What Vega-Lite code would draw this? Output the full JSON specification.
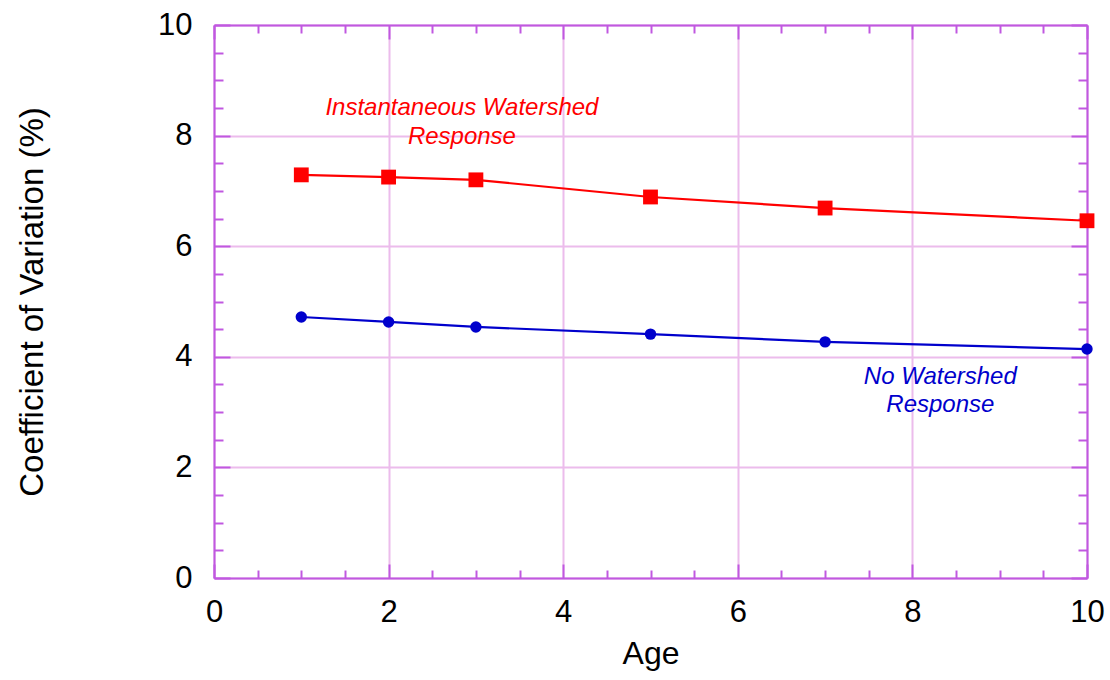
{
  "$schema": "https://vega.github.io/schema/vega-lite/v6.json",
  "width": 873,
  "height": 553,
  "autosize": {"type": "none"},
  "padding": {"left": 214, "top": 25, "right": 23, "bottom": 102},
  "config": {
    "view": {"stroke": null},
    "font": "Liberation Sans",
    "axis": {
      "domainColor": "#c058e0",
      "domainWidth": 2,
      "tickColor": "#c058e0",
      "tickWidth": 2,
      "gridColor": "#ecbcec",
      "gridWidth": 2,
      "labelFont": "Liberation Sans",
      "labelFontSize": 31,
      "labelColor": "#000000",
      "labelFlush": false,
      "titleFont": "Liberation Sans",
      "titleFontSize": 32,
      "titleFontWeight": "normal",
      "titleColor": "#000000"
    }
  },
  "datasets": {
    "cv": [
      {"age": 1, "cv": 7.29, "series": "Instantaneous Watershed Response"},
      {"age": 2, "cv": 7.25, "series": "Instantaneous Watershed Response"},
      {"age": 3, "cv": 7.2, "series": "Instantaneous Watershed Response"},
      {"age": 5, "cv": 6.89, "series": "Instantaneous Watershed Response"},
      {"age": 7, "cv": 6.69, "series": "Instantaneous Watershed Response"},
      {"age": 10, "cv": 6.46, "series": "Instantaneous Watershed Response"},
      {"age": 1, "cv": 4.72, "series": "No Watershed Response"},
      {"age": 2, "cv": 4.63, "series": "No Watershed Response"},
      {"age": 3, "cv": 4.54, "series": "No Watershed Response"},
      {"age": 5, "cv": 4.41, "series": "No Watershed Response"},
      {"age": 7, "cv": 4.27, "series": "No Watershed Response"},
      {"age": 10, "cv": 4.14, "series": "No Watershed Response"}
    ],
    "notes": [
      {"age": 2.84, "cv": 8.5, "label": "Instantaneous Watershed", "series": "Instantaneous Watershed Response"},
      {"age": 2.84, "cv": 7.97, "label": "Response", "series": "Instantaneous Watershed Response"},
      {"age": 8.32, "cv": 3.63, "label": "No Watershed", "series": "No Watershed Response"},
      {"age": 8.32, "cv": 3.12, "label": "Response", "series": "No Watershed Response"}
    ]
  },
  "layer": [
    {
      "data": {"name": "cv"},
      "mark": {"type": "line", "strokeWidth": 2.2},
      "encoding": {
        "x": {"field": "age", "type": "quantitative", "scale": {"domain": [0, 10], "nice": false},
          "axis": {"orient": "bottom", "values": [0, 2, 4, 6, 8, 10], "tickSize": -14, "grid": true, "title": "Age", "labelPadding": 33, "titlePadding": 11, "format": "d"}},
        "y": {"field": "cv", "type": "quantitative", "scale": {"domain": [0, 10], "nice": false},
          "axis": {"orient": "left", "values": [0, 2, 4, 6, 8, 10], "tickSize": -16, "grid": true, "title": "Coefficient of Variation (%)", "titleFontSize": 33, "labelPadding": 38, "titlePadding": 108, "format": "d"}},
        "color": {"field": "series", "type": "nominal", "scale": {"domain": ["Instantaneous Watershed Response", "No Watershed Response"], "range": ["#ff0000", "#0000cc"]}, "legend": null}
      }
    },
    {
      "data": {"name": "cv"},
      "mark": {"type": "point", "filled": true, "opacity": 1},
      "encoding": {
        "x": {"field": "age", "type": "quantitative", "scale": {"domain": [0, 10], "nice": false},
          "axis": {"orient": "bottom", "values": [0.5, 1, 1.5, 2.5, 3, 3.5, 4.5, 5, 5.5, 6.5, 7, 7.5, 8.5, 9, 9.5], "tickSize": -8, "labels": false, "domain": false, "grid": false, "title": null}},
        "y": {"field": "cv", "type": "quantitative", "scale": {"domain": [0, 10], "nice": false},
          "axis": {"orient": "left", "values": [0.5, 1, 1.5, 2.5, 3, 3.5, 4.5, 5, 5.5, 6.5, 7, 7.5, 8.5, 9, 9.5], "tickSize": -9, "labels": false, "domain": false, "grid": false, "title": null}},
        "color": {"field": "series", "type": "nominal", "legend": null},
        "shape": {"field": "series", "type": "nominal", "scale": {"domain": ["Instantaneous Watershed Response", "No Watershed Response"], "range": ["square", "circle"]}, "legend": null},
        "size": {"field": "series", "type": "nominal", "scale": {"domain": ["Instantaneous Watershed Response", "No Watershed Response"], "range": [220, 130]}, "legend": null}
      }
    },
    {
      "data": {"name": "cv"},
      "mark": {"type": "point", "opacity": 0},
      "encoding": {
        "x": {"field": "age", "type": "quantitative", "scale": {"domain": [0, 10], "nice": false},
          "axis": {"orient": "top", "values": [0, 2, 4, 6, 8, 10], "tickSize": -14, "labels": false, "grid": false, "title": null}},
        "y": {"field": "cv", "type": "quantitative", "scale": {"domain": [0, 10], "nice": false},
          "axis": {"orient": "right", "values": [0, 2, 4, 6, 8, 10], "tickSize": -16, "labels": false, "grid": false, "title": null}}
      }
    },
    {
      "data": {"name": "cv"},
      "mark": {"type": "point", "opacity": 0},
      "encoding": {
        "x": {"field": "age", "type": "quantitative", "scale": {"domain": [0, 10], "nice": false},
          "axis": {"orient": "top", "values": [0.5, 1, 1.5, 2.5, 3, 3.5, 4.5, 5, 5.5, 6.5, 7, 7.5, 8.5, 9, 9.5], "tickSize": -8, "labels": false, "domain": false, "grid": false, "title": null}},
        "y": {"field": "cv", "type": "quantitative", "scale": {"domain": [0, 10], "nice": false},
          "axis": {"orient": "right", "values": [0.5, 1, 1.5, 2.5, 3, 3.5, 4.5, 5, 5.5, 6.5, 7, 7.5, 8.5, 9, 9.5], "tickSize": -9, "labels": false, "domain": false, "grid": false, "title": null}}
      }
    },
    {
      "data": {"name": "notes"},
      "mark": {"type": "text", "font": "Liberation Sans", "fontSize": 24, "fontStyle": "italic", "align": "center", "baseline": "middle"},
      "encoding": {
        "x": {"field": "age", "type": "quantitative", "scale": {"domain": [0, 10], "nice": false}, "axis": null},
        "y": {"field": "cv", "type": "quantitative", "scale": {"domain": [0, 10], "nice": false}, "axis": null},
        "text": {"field": "label"},
        "color": {"field": "series", "type": "nominal", "legend": null}
      }
    }
  ],
  "resolve": {
    "scale": {"x": "independent", "y": "independent"},
    "axis": {"x": "independent", "y": "independent"}
  }
}
